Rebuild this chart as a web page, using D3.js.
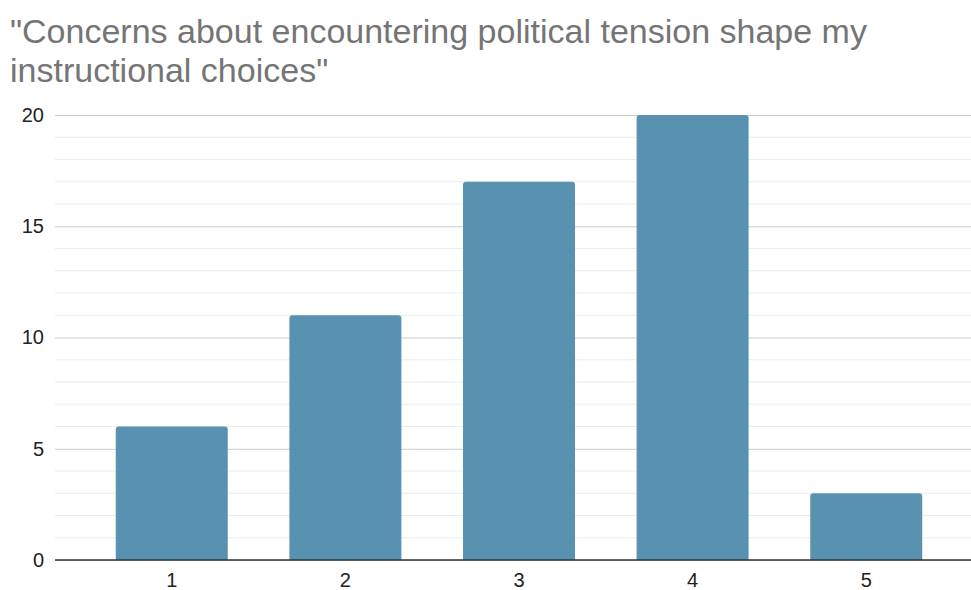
<!DOCTYPE html>
<html>
<head>
<meta charset="utf-8">
<script src="https://cdn.jsdelivr.net/npm/d3@7/dist/d3.min.js"></script>
<style>
  html, body { margin: 0; padding: 0; background: #fff; }
  svg { display: block; font-family: "Liberation Sans", Arial, sans-serif; }
</style>
</head>
<body>
<svg id="chart" width="971" height="590"></svg>
<script>
// Survey responses on a 1–5 agreement scale
const categories = ["1", "2", "3", "4", "5"];
const counts = [6, 11, 17, 20, 3];
const yMajorTicks = [0, 5, 10, 15, 20];
const titleLines = ['"Concerns about encountering political tension shape my', 'instructional choices"'];

const W = 971, H = 590;
const margin = { left: 55, right: -12, top: 115, bottom: 30 };
const svg = d3.select("#chart");

// Title
svg.append("text")
  .attr("x", 10).attr("y", 43)
  .attr("fill", "#757575")
  .style("font-size", "34px")
  .selectAll("tspan")
  .data(titleLines)
  .join("tspan")
  .attr("x", 10)
  .attr("dy", (d, i) => i === 0 ? 0 : 39)
  .text(d => d);

const y = d3.scaleLinear().domain([0, 20]).range([H - margin.bottom, margin.top]);
const x = d3.scaleBand().domain(categories)
  .range([margin.left, W - margin.right])
  .paddingInner(0.355)
  .paddingOuter(0.35);

const gridRight = W;

// Minor gridlines (every unit)
const minor = d3.range(1, 20).filter(v => v % 5 !== 0);
svg.append("g").selectAll("line").data(minor).join("line")
  .attr("x1", margin.left).attr("x2", gridRight)
  .attr("y1", d => y(d)).attr("y2", d => y(d))
  .attr("stroke", "#ebebeb").attr("stroke-width", 1);

// Major gridlines + labels via axis
const yAxis = d3.axisLeft(y).tickValues(yMajorTicks).tickSize(-(gridRight - margin.left)).tickPadding(11);
const gy = svg.append("g").attr("transform", `translate(${margin.left},0)`).call(yAxis);
gy.select(".domain").remove();
gy.selectAll(".tick line").attr("stroke", "#cccccc").attr("stroke-width", 1);
gy.selectAll(".tick text").attr("fill", "#222").style("font-size", "20px")
  .attr("font-family", "Liberation Sans, Arial, sans-serif");

// Bars with rounded tops
const r = 3;
svg.append("g").selectAll("path").data(categories).join("path")
  .attr("fill", "#5991b0")
  .attr("d", (c, i) => {
    const x0 = x(c), w = x.bandwidth(), yt = y(counts[i]), yb = y(0);
    return `M${x0},${yb}V${yt + r}Q${x0},${yt} ${x0 + r},${yt}H${x0 + w - r}Q${x0 + w},${yt} ${x0 + w},${yt + r}V${yb}Z`;
  });

// Baseline
svg.append("line")
  .attr("x1", margin.left).attr("x2", gridRight)
  .attr("y1", y(0)).attr("y2", y(0))
  .attr("stroke", "#333").attr("stroke-width", 1.5);

// X axis labels
const xAxis = d3.axisBottom(x).tickSize(0).tickPadding(13);
const gx = svg.append("g").attr("transform", `translate(0,${y(0)})`).call(xAxis);
gx.select(".domain").remove();
gx.selectAll(".tick text").attr("fill", "#222").style("font-size", "20px")
  .attr("font-family", "Liberation Sans, Arial, sans-serif");
</script>
</body>
</html>
